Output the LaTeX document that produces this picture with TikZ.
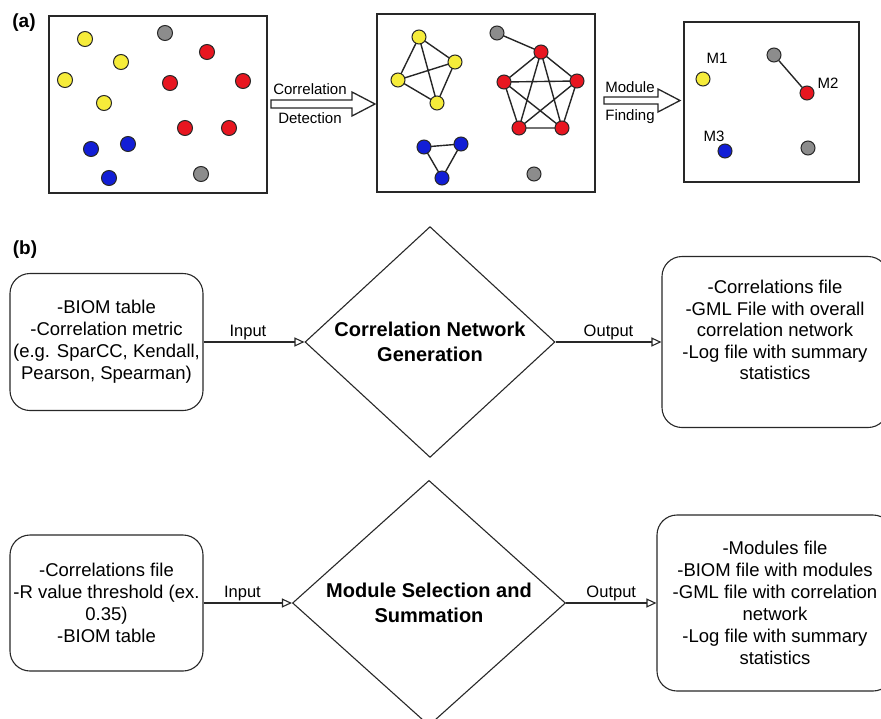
\documentclass[tikz,border=0pt]{standalone}
\usepackage{fontspec}
\setmainfont{Liberation Sans}
\usetikzlibrary{arrows.meta,shapes.geometric}
\definecolor{dyel}{RGB}{246,236,58}
\definecolor{dred}{RGB}{232,22,32}
\definecolor{dblu}{RGB}{18,30,214}
\definecolor{dgry}{RGB}{140,140,140}
\definecolor{lin}{RGB}{40,40,40}
\begin{document}
\begin{tikzpicture}[x=1pt,y=-1pt,
  dot/.style={circle, draw=lin, line width=1pt, inner sep=0pt, minimum size=14pt},
  bigdot/.style={dot, minimum size=15pt},
  yel/.style={fill=dyel}, red/.style={fill=dred}, blu/.style={fill=dblu}, gry/.style={fill=dgry},
  panelbox/.style={draw=lin, line width=1.8pt, inner sep=0pt},
  edge/.style={draw=black!85, line width=1.4pt},
  blockarrow/.style={draw=black!85, line width=1.3pt, fill=white, line join=miter},
  smalltxt/.style={font=\fontsize{15}{16}\selectfont, inner sep=0pt},
  panellabel/.style={font=\bfseries\fontsize{19}{22}\selectfont, inner sep=0pt},
  roundbox/.style={draw=lin, line width=1.1pt, rounded corners=20pt, inner sep=0pt, align=center, font=\fontsize{18.5}{22}\selectfont},
  boxtext/.style={align=center, inner sep=0pt, font=\fontsize{18.5}{21.6}\selectfont},
  decision/.style={diamond, draw=lin, line width=1.1pt, inner sep=0pt, align=center, font=\bfseries\fontsize{20}{25}\selectfont},
  flow/.style={draw=lin, line width=1.1pt, -{Triangle[open, length=10pt, width=9pt]}},
  flowlabel/.style={font=\fontsize{16.5}{18}\selectfont, inner sep=2pt}
]
\useasboundingbox (0,0) rectangle (881,718);
\clip (0,0) rectangle (881,718);

% ---------------- panel (a)
\node[panellabel] (la) at (24,23) {(a)};
\node[panelbox, minimum width=218, minimum height=177] (boxA) at (158,104.5) {};
\node[panelbox, minimum width=218, minimum height=178] (boxB) at (486,103) {};
\node[panelbox, minimum width=175, minimum height=160] (boxC) at (771.5,102) {};

% box 1 dots
\node[bigdot,yel] (a1) at (85,39) {};
\node[bigdot,yel] (a2) at (121,62) {};
\node[bigdot,yel] (a3) at (65,80) {};
\node[bigdot,yel] (a4) at (104,103) {};
\node[bigdot,gry] (a5) at (165,33) {};
\node[bigdot,red] (a6) at (207,52) {};
\node[bigdot,red] (a7) at (170,83) {};
\node[bigdot,red] (a8) at (243,81) {};
\node[bigdot,red] (a9) at (185,128) {};
\node[bigdot,red] (a10) at (229,128) {};
\node[bigdot,blu] (a11) at (91,149) {};
\node[bigdot,blu] (a12) at (128,144) {};
\node[bigdot,blu] (a13) at (109,178) {};
\node[bigdot,gry] (a14) at (201,174) {};

% arrow 1
\draw[blockarrow] (271,100) -- (352,100) -- (352,92) -- (375,104) -- (352,116) -- (352,108) -- (271,108) -- cycle;
\node[smalltxt] (t1) at (310,89) {Correlation};
\node[smalltxt] (t2) at (310,118) {Detection};

% box 2 network
\coordinate (Y1) at (419,37); \coordinate (Y2) at (398,80);
\coordinate (Y3) at (455,62); \coordinate (Y4) at (437,103);
\coordinate (G1) at (497,33);
\coordinate (R1) at (541,52); \coordinate (R2) at (504,82); \coordinate (R3) at (577,81);
\coordinate (R4) at (519,128); \coordinate (R5) at (562,128);
\coordinate (B1) at (424,147); \coordinate (B2) at (461,144); \coordinate (B3) at (442,178);
\draw[edge] (Y1)--(Y2) (Y1)--(Y3) (Y1)--(Y4) (Y2)--(Y3) (Y2)--(Y4) (Y3)--(Y4);
\draw[edge] (R1)--(R2) (R1)--(R3) (R1)--(R4) (R1)--(R5) (R2)--(R3) (R2)--(R4) (R2)--(R5) (R3)--(R4) (R3)--(R5) (R4)--(R5);
\draw[edge] (G1)--(R1);
\draw[edge] (B1)--(B2) (B1)--(B3) (B2)--(B3);
\foreach \p in {Y1,Y2,Y3,Y4} \node[dot,yel] (n\p) at (\p) {};
\foreach \p in {R1,R2,R3,R4,R5} \node[dot,red] (n\p) at (\p) {};
\foreach \p in {B1,B2,B3} \node[dot,blu] (n\p) at (\p) {};
\node[dot,gry] (nG1) at (G1) {};
\node[dot,gry] (nG2) at (534,174) {};

% arrow 2
\draw[blockarrow] (604,97) -- (658,97) -- (658,89) -- (680,100.5) -- (658,112) -- (658,104) -- (604,104) -- cycle;
\node[smalltxt] (t3) at (630,87) {Module};
\node[smalltxt] (t4) at (630,117) {Finding};

% box 3
\node[dot,gry] (c2) at (774,55) {};
\node[dot,red] (c3) at (807,93) {};
\draw[edge] (c2) -- (c3);
\node[dot,yel] (c1) at (703,79) {};
\node[dot,blu] (c4) at (725,151) {};
\node[dot,gry] (c5) at (808,148) {};
\node[smalltxt] (m1) at (717,58) {M1};
\node[smalltxt] (m2) at (828,83) {M2};
\node[smalltxt] (m3) at (714,136) {M3};

% ---------------- panel (b)
\node[panellabel] (lb) at (25,250) {(b)};

\node[roundbox, minimum width=193, minimum height=137] (L1) at (106.5,342)
  {-BIOM table\\-Correlation metric\\(e.g. SparCC, Kendall,\\Pearson, Spearman)};
\node[decision, minimum width=250, minimum height=216] (D1) at (430,342)
  {Correlation Network\\Generation};
\node[roundbox, minimum width=226, minimum height=171] (Rb1) at (775,342) {};
\node[boxtext] (Rt1) at (775,330)
  {-Correlations file\\-GML File with overall\\correlation network\\-Log file with summary\\statistics};
\draw[flow] (L1.east) -- node[flowlabel, above, pos=0.44] (in1) {Input} (D1.west);
\draw[flow] (D1.east) -- node[flowlabel, above] (out1) {Output} (Rb1.west);

\node[roundbox, minimum width=193, minimum height=136] (L2) at (106.5,603)
  {-Correlations file\\-R value threshold (ex.\\0.35)\\-BIOM table};
\node[decision, minimum width=273, minimum height=233] (D2) at (429,603)
  {Module Selection and\\Summation};
\node[roundbox, minimum width=236, minimum height=176] (Rb2) at (775,603)
  {-Modules file\\-BIOM file with modules\\-GML file with correlation\\network\\-Log file with summary\\statistics};
\draw[flow] (L2.east) -- node[flowlabel, above, pos=0.44] (in2) {Input} (D2.west);
\draw[flow] (D2.east) -- node[flowlabel, above] (out2) {Output} (Rb2.west);
\end{tikzpicture}
\end{document}
